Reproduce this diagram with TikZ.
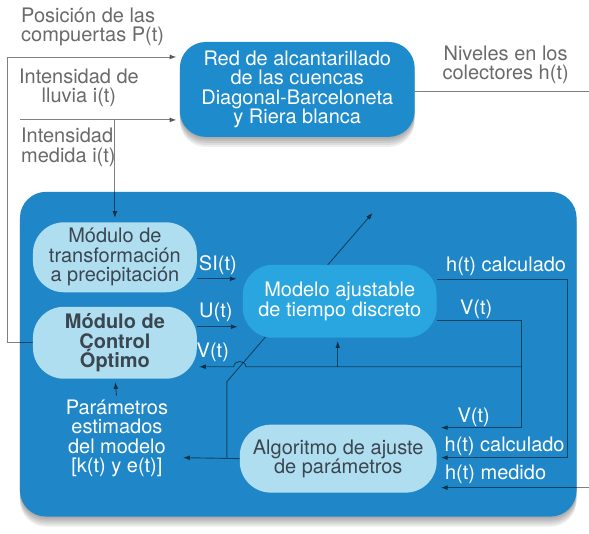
\documentclass[tikz,border=0pt]{standalone}
\usepackage{fontspec}
\setmainfont{TeX Gyre Heros}
\usetikzlibrary{arrows.meta,calc}
\definecolor{panelblue}{HTML}{1F87C8}
\definecolor{topblue}{HTML}{1E8BCC}
\definecolor{lightbox}{HTML}{B0DEF1}
\definecolor{modelblue}{HTML}{29A5E0}
\definecolor{outtext}{HTML}{6A6A6A}
\definecolor{boxtext}{HTML}{3A4650}
\pgfdeclarelayer{bg}
\pgfdeclarelayer{mid}
\pgfsetlayers{bg,mid,main}
\begin{document}
\begin{tikzpicture}[x=1pt,y=-1pt,
  every node/.style={inner sep=0pt, font=\fontsize{20}{19.5}\selectfont},
  lightnode/.style={fill=lightbox, text=boxtext, rounded corners=31pt, align=center},
  bigbox/.style={rounded corners=26pt},
  wire/.style={draw=black, opacity=0.5, line width=0.9pt},
  arr/.style={wire, -{Latex[length=7pt,width=5pt]}},
  wlabel/.style={text=white},
  olabel/.style={text=outtext},
  shadowlayer/.style={fill=black, opacity=0.07, rounded corners=26pt},
]
\begin{pgfonlayer}{bg}
\fill[white] (0,0) rectangle (589,534);
\useasboundingbox (0,0) rectangle (589,534);
\foreach \k in {2,4,6,8,10}{
  \fill[shadowlayer] (20,{192+\k}) rectangle (577,{517+\k});
  \fill[shadowlayer] (180,{42+\k}) rectangle (415,{137+\k});
}
\node[bigbox, fill=panelblue, minimum width=557pt, minimum height=325pt] (panel) at (298.5,354.5) {};
\end{pgfonlayer}

% top box
\node[bigbox, fill=topblue, text=white, align=center, minimum width=235pt, minimum height=95pt] (red) at (297.5,89.5)
  {Red de alcantarillado\\de las cuencas\\Diagonal-Barceloneta\\y Riera blanca};

% inner nodes
\node[lightnode, minimum width=164pt, minimum height=70pt] (trans) at (115,257.5)
  {Módulo de\\transformación\\a precipitación};
\node[lightnode, minimum width=164pt, minimum height=72pt, font=\fontsize{20}{19.5}\selectfont\bfseries] (control) at (115,343)
  {Módulo de\\Control\\Óptimo};
\node[fill=modelblue, text=white, rounded corners=30pt, align=center, minimum width=194pt, minimum height=73pt] (modelo) at (340,301.5)
  {Modelo ajustable\\de tiempo discreto};
\node[lightnode, minimum width=197pt, minimum height=68pt] (algo) at (338.5,459)
  {Algoritmo de ajuste\\de parámetros};

% outside labels
\node[olabel, anchor=west, align=left] (pos) at (21,27) {Posición de las\\compuertas P(t)};
\node[olabel, align=center] (lluvia) at (79,88) {Intensidad de\\lluvia i(t)};
\node[olabel, anchor=west, align=left] (medida) at (21,147.5) {Intensidad\\medida i(t)};
\node[olabel, align=center] (niveles) at (506,65) {Niveles en los\\colectores h(t)};

% inside labels
\node[wlabel] (si) at (218,265) {SI(t)};
\node[wlabel] (u) at (216,313) {U(t)};
\node[wlabel] (vl) at (213,353) {V(t)};
\node[wlabel] (hc1) at (506.5,267) {h(t) calculado};
\node[wlabel] (vm) at (476.5,310) {V(t)};
\node[wlabel] (vb) at (474,418) {V(t)};
\node[wlabel] (hc2) at (505,447) {h(t) calculado};
\node[wlabel] (hm) at (496,475) {h(t) medido};
\node[wlabel, align=center] (param) at (117,438.8) {Parámetros\\estimados\\del modelo\\[0pt][k(t) y e(t)]};

% connectors
\coordinate (lluviastart) at (20,120);
\coordinate (lluviabranch) at (115,120);
\coordinate (pcorner) at (7,343);
\coordinate (ptop) at (7,57);
\coordinate (nivelesend) at (589,92);
\coordinate (vright) at (522,321);
\coordinate (vlow) at (522,428);
\coordinate (vbranch) at (522,367);
\coordinate (vup) at (338,367);
\coordinate (hright) at (568,280);
\coordinate (hlow) at (568,458);
\coordinate (medidostart) at (589,488);
\coordinate (pbranch) at (227,458);
\coordinate (pbend) at (227,382);
\coordinate (adjtip) at (373,213);
\begin{pgfonlayer}{mid}
\draw[arr] (control.west) -- (pcorner) -- (ptop) -- ([xshift=-3pt]red.west |- ptop);
\draw[arr] (lluviastart) -- ([xshift=-3pt]red.west |- lluviastart);
\draw[arr, shorten >=4pt] (lluviabranch) -- (trans.north);
\draw[wire] (red.east |- nivelesend) -- (nivelesend);
\draw[arr] (trans.east |- 0,279) -- (237,279);
\draw[arr] (control.east |- 0,327) -- (238,327);
\draw[arr] (modelo.east |- vright) -- (vright) -- (vlow) -- (441,428);
\draw[arr] (vbranch) -- (246,367) .. controls (246,360) and (234,360) .. (234,367) -- (199,367);
\draw[arr, shorten >=3pt] (vup) -- (modelo.south -| vup);
\draw[arr] (modelo.east |- hright) -- (hright) -- (hlow) -- (441,458);
\draw[arr] (medidostart) -- (441,488);
\draw[arr] (algo.west) -- (183,458);
\draw[arr] (pbranch) -- (pbend) -- (adjtip);
\draw[arr, shorten <=4pt, shorten >=3pt] (param.north) -- (control.south);
\end{pgfonlayer}
\end{tikzpicture}
\end{document}
